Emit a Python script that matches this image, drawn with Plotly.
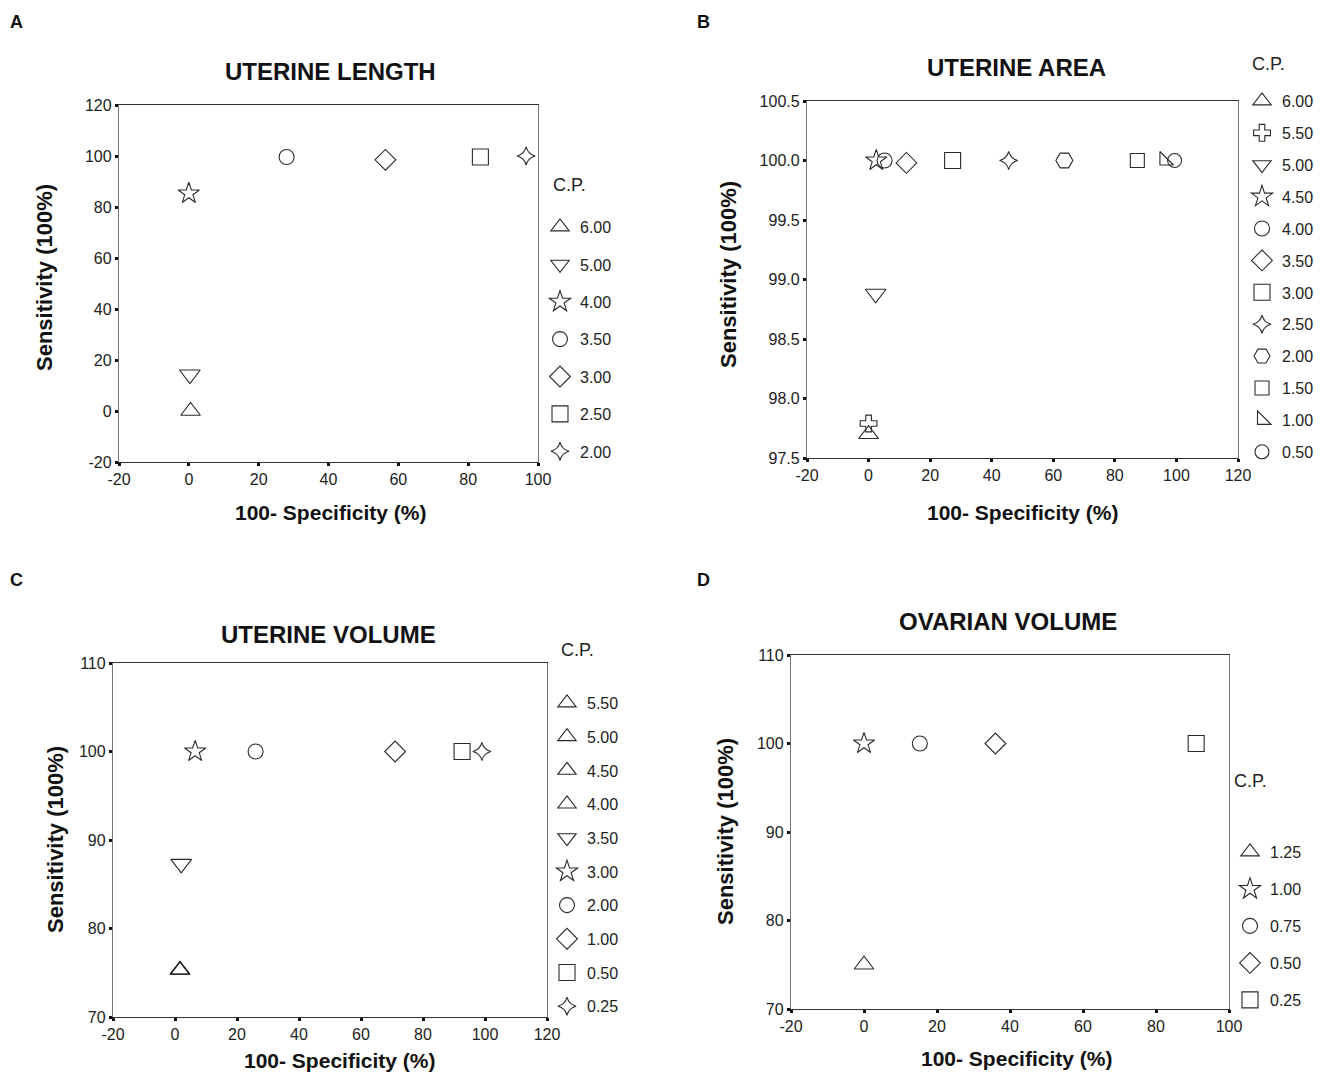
import plotly.graph_objects as go

W, H = 1328, 1075
OFF = 0            # page body margin is removed by the post script below
FW, FH = W - 2 * OFF, H - 2 * OFF

# ---------------- DATA ----------------
a_cp = ["6.00", "5.00", "4.00", "3.50", "3.00", "2.50", "2.00"]
a_x = [0.5, 0.3, 0.0, 28.0, 56.3, 83.5, 96.6]
a_y = [0.0, 14.3, 85.3, 99.6, 98.5, 99.6, 100.0]

b_cp = ["6.00", "5.50", "5.00", "4.50", "4.00", "3.50", "3.00", "2.50", "2.00", "1.50", "1.00", "0.50"]
b_x = [0.0, 0.0, 2.3, 2.5, 5.2, 12.3, 27.3, 45.5, 63.6, 87.3, 96.1, 99.4]
b_y = [97.70, 97.79, 98.88, 100.0, 100.0, 99.98, 100.0, 100.0, 100.0, 100.0, 100.0, 100.0]

c_cp = ["5.50", "5.00", "4.50", "4.00", "3.50", "3.00", "2.00", "1.00", "0.50", "0.25"]
c_x = [1.6, 1.6, 1.6, 1.6, 2.0, 6.5, 26.0, 71.0, 92.6, 99.0]
c_y = [75.3, 75.3, 75.3, 75.3, 87.3, 100.0, 100.0, 100.0, 100.0, 100.0]

d_cp = ["1.25", "1.00", "0.75", "0.50", "0.25"]
d_x = [0.0, 0.0, 15.3, 36.0, 91.0]
d_y = [75.0, 100.0, 100.0, 100.0, 100.0]

# tick values / labels
a_xticks = [-20, 0, 20, 40, 60, 80, 100]
a_yticks = [-20, 0, 20, 40, 60, 80, 100, 120]
b_xticks = [-20, 0, 20, 40, 60, 80, 100, 120]
b_yticks = [97.5, 98.0, 98.5, 99.0, 99.5, 100.0, 100.5]
c_xticks = [-20, 0, 20, 40, 60, 80, 100, 120]
c_yticks = [70, 80, 90, 100, 110]
d_xticks = [-20, 0, 20, 40, 60, 80, 100]
d_yticks = [70, 80, 90, 100, 110]

titles = ["UTERINE LENGTH", "UTERINE AREA", "UTERINE VOLUME", "OVARIAN VOLUME"]
panel_letters = ["A", "B", "C", "D"]
x_title = "100- Specificity (%)"
y_title = "Sensitivity (100%)"
legend_title = "C.P."

# ---------------- STYLE ----------------
SYM = {
    "tri": ("triangle-up-open", 17),
    "trap": ("triangle-down-open", 18),
    "star": ("star-open", 16),
    "circ": ("circle-open", 15),
    "diam": ("diamond-open", 16),
    "sq": ("square-open", 16),
    "spark": ("star-diamond-open", 13),
    "cross": ("cross-open", 14),
    "hex": ("hexagon2-open", 17),
    "rect": ("square-open", 14),
    "rtri": ("triangle-sw-open", 15),
    "dee": ("circle-open", 14),
}
a_sym = ["tri", "trap", "star", "circ", "diam", "sq", "spark"]
b_sym = ["tri", "cross", "trap", "star", "circ", "diam", "sq", "spark", "hex", "rect", "rtri", "dee"]
c_sym = ["tri", "tri", "tri", "tri", "trap", "star", "circ", "diam", "sq", "spark"]
d_sym = ["tri", "star", "circ", "diam", "sq"]

def fmt(v, dec):
    return f"{v:.{dec}f}"  # plain hyphen minus, as in the reference

def px(x):
    return (x - OFF) / FW

def py(y):
    return 1 - (y - OFF) / FH

# pixel boxes (screen pixels): left, right, top, bottom
boxes = [(119, 538, 105, 462), (807, 1238, 101, 458), (113, 547, 663, 1017), (791, 1229, 655, 1009)]
xranges = [[-20, 100], [-20, 120], [-20, 120], [-20, 100]]
yranges = [[-20, 120], [97.5, 100.5], [70, 110], [70, 110]]
xtick_sets = [a_xticks, b_xticks, c_xticks, d_xticks]
ytick_sets = [a_yticks, b_yticks, c_yticks, d_yticks]
ydec = [0, 1, 0, 0]
title_pos = [(330, 72), (1016, 68), (328, 634), (1008, 621)]
letter_pos = [(16, 22), (703, 22), (16, 580), (703, 580)]
xt_pos = [(330, 512), (1022, 512), (339, 1060), (1016, 1058)]
yt_pos = [(45, 278), (728, 275), (55, 840), (725, 832)]
cp_pos = [(569, 185), (1268, 64), (577, 650), (1250, 781)]
leg_pos = [(540, 210), (1242, 84), (547, 686), (1230, 835)]
leg_gap = [13.6, 8.1, 9.9, 13.2]

LINE = "#2a2a2a"
FONT = "Liberation Sans, Arial, sans-serif"

fig = go.Figure()
panels = [(a_cp, a_x, a_y, a_sym), (b_cp, b_x, b_y, b_sym), (c_cp, c_x, c_y, c_sym), (d_cp, d_x, d_y, d_sym)]

for i, (cps, xs, ys, syms) in enumerate(panels):
    sfx = "" if i == 0 else str(i + 1)
    leg = "legend" + sfx
    for j, (cp, xv, yv, sk) in enumerate(zip(cps, xs, ys, syms)):
        sym, size = SYM[sk]
        fig.add_trace(go.Scatter(
            x=[xv], y=[yv], mode="markers", name=cp,
            xaxis="x" + sfx, yaxis="y" + sfx,
            legend=leg, legendgroup=f"p{i}_{j}",
            marker=dict(symbol=sym, size=size, color=LINE, line=dict(width=1.1, color=LINE)),
            showlegend=True,
        ))

layout = dict(
    width=FW, height=FH, margin=dict(l=0, r=0, t=0, b=0, autoexpand=False),
    paper_bgcolor="white", plot_bgcolor="white",
    font=dict(family=FONT, size=16, color="#1a1a1a"),
    showlegend=True,
)
annotations = []
for i in range(4):
    sfx = "" if i == 0 else str(i + 1)
    l, r, t, b = boxes[i]
    layout["xaxis" + sfx] = dict(
        domain=[px(l), px(r)], range=xranges[i], anchor="y" + sfx,
        tickmode="array", tickvals=xtick_sets[i], ticktext=[fmt(v, 0) for v in xtick_sets[i]],
        showgrid=False, zeroline=False, automargin=False,
        showline=True, linecolor="#333", linewidth=1.3, mirror=True,
        ticks="outside", ticklen=3, tickwidth=3, tickcolor="#111",
        tickfont=dict(size=16, color="#222"),
    )
    layout["yaxis" + sfx] = dict(
        domain=[py(b), py(t)], range=yranges[i], anchor="x" + sfx,
        tickmode="array", tickvals=ytick_sets[i], ticktext=[fmt(v, ydec[i]) for v in ytick_sets[i]],
        showgrid=False, zeroline=False, automargin=False,
        showline=True, linecolor="#777", linewidth=1.3, mirror=True,
        ticks="outside", ticklen=3, tickwidth=3, tickcolor="#111",
        tickfont=dict(size=16, color="#222"),
    )
    lx, ly = leg_pos[i]
    layout["legend" + sfx] = dict(
        x=px(lx), y=py(ly), xanchor="left", yanchor="top",
        font=dict(size=16, color="#222"), tracegroupgap=leg_gap[i],
        bgcolor="rgba(0,0,0,0)", borderwidth=0, itemclick=False,
    )
    tx, ty = title_pos[i]
    annotations.append(dict(text=f"<b>{titles[i]}</b>", x=px(tx), y=py(ty), xref="paper", yref="paper",
                            showarrow=False, font=dict(size=24, color="#111"), xanchor="center", yanchor="middle"))
    lx2, ly2 = letter_pos[i]
    annotations.append(dict(text=f"<b>{panel_letters[i]}</b>", x=px(lx2), y=py(ly2), xref="paper", yref="paper",
                            showarrow=False, font=dict(size=18, color="#111"), xanchor="center", yanchor="middle"))
    xx, xy = xt_pos[i]
    annotations.append(dict(text=f"<b>{x_title}</b>", x=px(xx), y=py(xy), xref="paper", yref="paper",
                            showarrow=False, font=dict(size=21, color="#111"), xanchor="center", yanchor="middle"))
    yx, yy = yt_pos[i]
    annotations.append(dict(text=f"<b>{y_title}</b>", x=px(yx), y=py(yy), xref="paper", yref="paper",
                            showarrow=False, textangle=-90, font=dict(size=22, color="#111"),
                            xanchor="center", yanchor="middle"))
    cx, cy = cp_pos[i]
    annotations.append(dict(text=legend_title, x=px(cx), y=py(cy), xref="paper", yref="paper",
                            showarrow=False, font=dict(size=18, color="#222"), xanchor="center", yanchor="middle"))

layout["annotations"] = annotations
fig.update_layout(**layout)
fig.write_html(
    "out.html",
    config={"displayModeBar": False},
    post_script="document.body.style.margin='0';document.body.style.overflow='hidden';",
)
